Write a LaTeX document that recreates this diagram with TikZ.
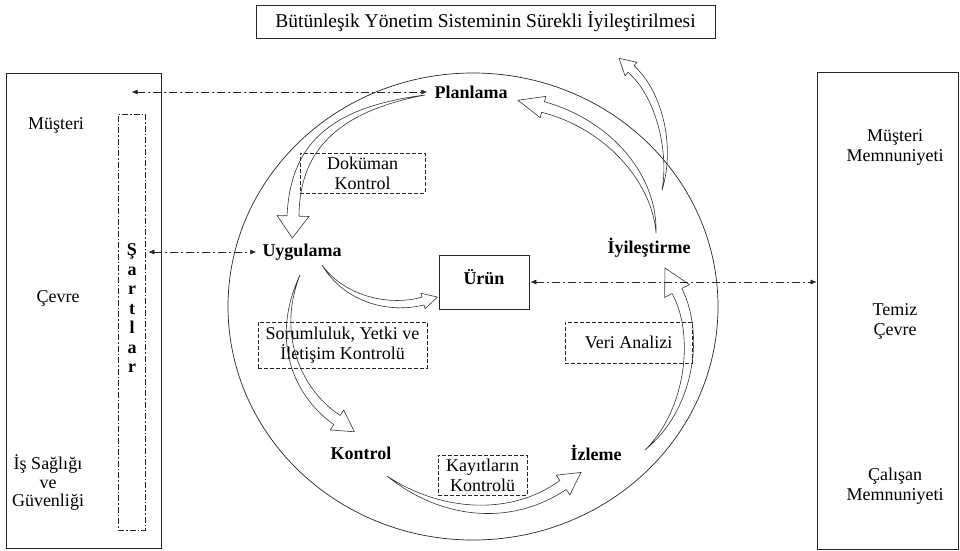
\documentclass[tikz,border=0pt]{standalone}
\usepackage{fontspec}
\setmainfont{Liberation Serif}
\usetikzlibrary{calc,arrows.meta}

\newcommand{\hollowarrow}[8]{%
  \coordinate (#1-s) at #2;
  \coordinate (#1-a) at #3;
  \coordinate (#1-b) at #4;
  \coordinate (#1-e) at #5;
  \draw[harrow] (#1-s)
    .. controls ($(#1-a)!0.65*#6!90:(#1-b)$) and ($(#1-b)!1.0*#6!-90:(#1-a)$) .. ($(#1-e)!#6!-90:(#1-b)$)
    -- ($(#1-e)!#7!-90:(#1-b)$) -- ($(#1-e)!#8!180:(#1-b)$) -- ($(#1-e)!#7!90:(#1-b)$) -- ($(#1-e)!#6!90:(#1-b)$)
    .. controls ($(#1-b)!1.0*#6!90:(#1-a)$) and ($(#1-a)!0.65*#6!-90:(#1-b)$) .. (#1-s) -- cycle;
}

\begin{document}
\begin{tikzpicture}[x=1pt,y=-1pt,
  every node/.style={inner sep=0pt, align=center, text=black},
  txt/.style={font=\fontsize{18}{20}\selectfont},
  btxt/.style={font=\fontsize{18}{20}\selectfont\bfseries},
  solidbox/.style={draw=black!85, line width=0.7pt},
  dbox/.style={draw=black!85, line width=0.7pt, dash pattern=on 4pt off 2pt},
  ddbox/.style={draw=black!85, line width=0.7pt, dash pattern=on 6pt off 2pt on 1.5pt off 2pt},
  ddline/.style={draw=black!85, line width=0.6pt, dash pattern=on 8pt off 3pt on 2pt off 3pt, {Latex[length=6pt,width=5pt]}-{Latex[length=6pt,width=5pt]}},
  harrow/.style={draw=black!80, line width=0.6pt, line join=round},
]
\useasboundingbox (0,0) rectangle (960,550);

% title
\node[solidbox, minimum width=459, minimum height=33, font=\fontsize{19.5}{21}\selectfont] (title) at (485.5,21.5) {Bütünleşik Yönetim Sisteminin Sürekli İyileştirilmesi};

% side boxes
\node[solidbox, minimum width=155, minimum height=475] (lbox) at (83.5,310.5) {};
\node[solidbox, minimum width=141, minimum height=477] (rbox) at (887.5,310.5) {};
\node[ddbox, minimum width=27, minimum height=416] (sartb) at (131.5,322) {};
\node[btxt, font=\fontsize{18}{19.5}\selectfont\bfseries] (sartt) at (132,308.5) {Ş\\a\\r\\t\\l\\a\\r};

\node[txt] (must) at (56,125) {Müşteri};
\node[txt] (cevre) at (58,298) {Çevre};
\node[txt, font=\fontsize{18}{18.5}\selectfont] (isg) at (48,483) {İş Sağlığı\\ve\\Güvenliği};

\node[txt] (mm) at (895,147) {Müşteri\\Memnuniyeti};
\node[txt] (tc) at (895,321) {Temiz\\Çevre};
\node[txt] (cm) at (895,486) {Çalışan\\Memnuniyeti};

% big circle
\draw[black!85, line width=0.7pt] (473,306.5) ellipse [x radius=245, y radius=233.5];

% stages
\node[btxt] (plan) at (471,92) {Planlama};
\node[btxt] (uyg) at (302,252) {Uygulama};
\node[btxt] (iyi) at (649,248) {İyileştirme};
\node[btxt] (kont) at (361,453) {Kontrol};
\node[btxt] (izl) at (596,453) {İzleme};
\node[solidbox, minimum width=90, minimum height=54] (urun) at (484,282) {};
\node[btxt] (urunt) at (484,277) {Ürün};

% dashed boxes
\node[txt, dbox, minimum width=125, minimum height=40] (dok) at (362.5,173) {Doküman\\Kontrol};
\node[txt, dbox, minimum width=169, minimum height=46] (sor) at (342.5,345) {Sorumluluk, Yetki ve\\İletişim Kontrolü};
\node[txt, dbox, minimum width=127, minimum height=41] (veri) at (628.5,342.5) {Veri Analizi};
\node[txt, dbox, minimum width=89, minimum height=40] (kay) at (482.5,475) {Kayıtların\\Kontrolü};

% dash-dot connectors
\coordinate (plL) at (sartb.north |- plan.west);
\draw[ddline, shorten >=7pt] (plL) -- (plan.west);
\draw[ddline, shorten <=3pt, shorten >=6pt] (sartb.east |- uyg.west) -- (uyg.west);
\draw[ddline, shorten <=1pt] (urun.east) -- (urun.east -| rbox.west);

% hollow curved arrows
\hollowarrow{a1}{(425,95)}{(330,110)}{(295,150)}{(293,216)}{6pt}{16pt}{22pt}
\hollowarrow{a2}{(656,233)}{(655,180)}{(610,125)}{(543,107)}{5.5pt}{11pt}{26pt}
\hollowarrow{a3}{(662,190)}{(672,150)}{(660,95)}{(631,69)}{4.5pt}{9pt}{16pt}
\hollowarrow{a4}{(322,265)}{(345,300)}{(390,310)}{(423,301)}{4pt}{8pt}{15pt}
\hollowarrow{a5}{(300,275)}{(272,340)}{(300,395)}{(337,420)}{5.5pt}{12pt}{21pt}
\hollowarrow{a6}{(387,476)}{(440,515)}{(510,522)}{(563,485)}{5.5pt}{12pt}{22pt}
\hollowarrow{a7}{(645,450)}{(690,410)}{(700,335)}{(677,291)}{5.5pt}{14pt}{26pt}
\end{tikzpicture}
\end{document}
